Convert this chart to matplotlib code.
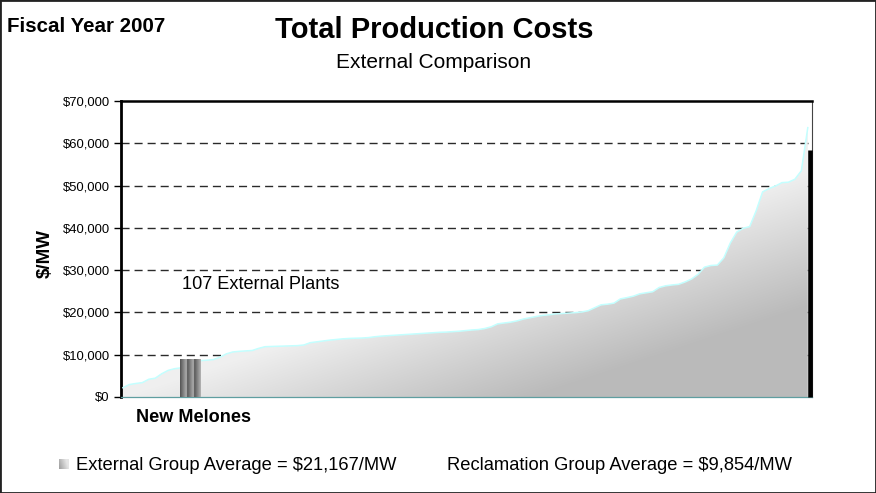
import numpy as np
import matplotlib
matplotlib.use("Agg")
import matplotlib.pyplot as plt
from matplotlib.patches import Rectangle

plt.rcParams['font.family'] = ['Liberation Sans', 'DejaVu Sans']
plt.rcParams['lines.scale_dashes'] = False

# ---- data ----
costs = [2200, 2950, 3200, 3400, 4200, 4450, 5500, 6300, 6700, 6900,
         7600, 8200, 8600, 8700, 8850, 9400, 10200, 10650, 10800, 10900,
         11000, 11500, 11900, 11950, 12000, 12050, 12100, 12150, 12300, 12850,
         13050, 13250, 13450, 13600, 13750, 13850, 13900, 13950, 14050, 14250,
         14400, 14500, 14600, 14700, 14800, 14900, 15000, 15100, 15200, 15300,
         15350, 15450, 15550, 15700, 15850, 15950, 16200, 16600, 17300, 17500,
         17700, 18000, 18450, 18750, 19050, 19300, 19450, 19650, 19750, 19850,
         19950, 20100, 20400, 21100, 21800, 21950, 22200, 23200, 23500, 23850,
         24400, 24650, 24900, 25900, 26300, 26500, 26650, 27200, 27900, 29000,
         30700, 31100, 31200, 32900, 36400, 39000, 39900, 40300, 44000, 48500,
         49300, 49900, 50700, 50800, 51500, 53500, 63700]
nm_label = "New Melones"
nm_value = 8850
yticks = [0, 10000, 20000, 30000, 40000, 50000, 60000, 70000]
ytick_labels = ["$0", "$10,000", "$20,000", "$30,000", "$40,000",
                "$50,000", "$60,000", "$70,000"]
external_avg = "$21,167/MW"
reclamation_avg = "$9,854/MW"
plants_label = "107 External Plants"

W, H = 876, 493
fig = plt.figure(figsize=(W / 100, H / 100), dpi=100)
ax = fig.add_axes([121 / W, 1 - 397 / H, (812 - 121) / W, (397 - 101) / H])

x = np.arange(len(costs))
xlim = (-0.3, 106.65)
ylim = (0, 70000)

# gridlines behind the area
for yv in yticks[1:-1]:
    ax.axhline(yv, color='#2a2a2a', lw=1.0, ls=(0, (5.8, 3.6)), zorder=1)

# gradient-filled area
poly = ax.fill_between(x, costs, 0, facecolor='none', edgecolor='none', zorder=2)
uu, vv = np.meshgrid(np.linspace(0, 1, 500), np.linspace(0, 1, 300))
s = uu - 1.3 * vv
g = 0.94 - 0.21 * np.clip(s / 0.6, 0, 1)
img = np.dstack([g, g, g])
im = ax.imshow(img, extent=(0, 1, 0, 1), transform=ax.transAxes, origin='lower',
               aspect='auto', zorder=2, interpolation='bilinear')
im.set_clip_path(poly.get_paths()[0], ax.transData)
ax.plot(x, costs, color='#c4ffff', lw=1.1, zorder=3)

# New Melones bar (three shaded stripes)
nm_pos, nm_w = 10.45, 3.2
stripe = np.linspace(0.33, 0.70, 20)
row = np.concatenate([stripe, stripe, stripe])
bar_img = np.dstack([np.tile(row, (2, 1))] * 3)
ax.imshow(bar_img, extent=(nm_pos - nm_w / 2, nm_pos + nm_w / 2, 0, nm_value),
          origin='lower', aspect='auto', zorder=4, interpolation='bilinear')

# thick right edge
ax.plot([xlim[1] - 0.3, xlim[1] - 0.3], [0, 58500], color='black', lw=3.3,
        solid_capstyle='butt', clip_on=False, zorder=5)

ax.set_xlim(*xlim)
ax.set_ylim(*ylim)
ax.set_xticks([])
ax.set_yticks(yticks, ytick_labels)
ax.tick_params(axis='y', direction='out', length=5, width=1, labelsize=9.4, pad=3,
               colors='black')
ax.spines['left'].set_linewidth(2.0)
ax.spines['left'].set_color('black')
ax.spines['top'].set_linewidth(1.8)
ax.spines['top'].set_color('black')
ax.spines['right'].set_linewidth(0.8)
ax.spines['right'].set_color('#444444')
ax.spines['bottom'].set_linewidth(0.9)
ax.spines['bottom'].set_color('#5f9ea0')
ax.set_facecolor('white')


def fy(py):
    return 1 - py / H


fig.text(181.5 / W, fy(289), plants_label, fontsize=13.1, va='baseline', ha='left')

# figure texts
fig.text(7 / W, fy(32), "Fiscal Year 2007", fontsize=14.8, fontweight='bold',
         va='baseline', ha='left')
fig.text(434.5 / W, fy(38), "Total Production Costs", fontsize=21,
         fontweight='bold', va='baseline', ha='center')
fig.text(433.5 / W, fy(68), "External Comparison", fontsize=15,
         va='baseline', ha='center')
fig.text(45 / W, fy(253), "$/MW", rotation=90, fontsize=13.5,
         fontweight='bold', va='center', ha='center')
fig.text(136.5 / W, fy(421.5), nm_label, fontsize=13.1, fontweight='bold',
         va='baseline', ha='left')

# legend
lax = fig.add_axes([59 / W, fy(469), 10 / W, 10 / H])
lu, lv = np.meshgrid(np.linspace(0, 1, 20), np.linspace(0, 1, 20))
lg = 0.62 + 0.28 * np.clip(lu + 0.3 * lv, 0, 1)
lax.imshow(np.dstack([lg, lg, lg]), extent=(0, 1, 0, 1), origin='lower', aspect='auto')
lax.axis('off')
fig.text(76 / W, fy(470), "External Group Average = " + external_avg,
         fontsize=13.2, va='baseline', ha='left')
fig.text(447 / W, fy(470), "Reclamation Group Average = " + reclamation_avg,
         fontsize=13.2, va='baseline', ha='left')

# outer border
fig.patches.append(Rectangle((0, 0), 1, 1, transform=fig.transFigure, fill=False,
                             ec='#222222', lw=2.0))

fig.savefig("out.png", dpi=100)
